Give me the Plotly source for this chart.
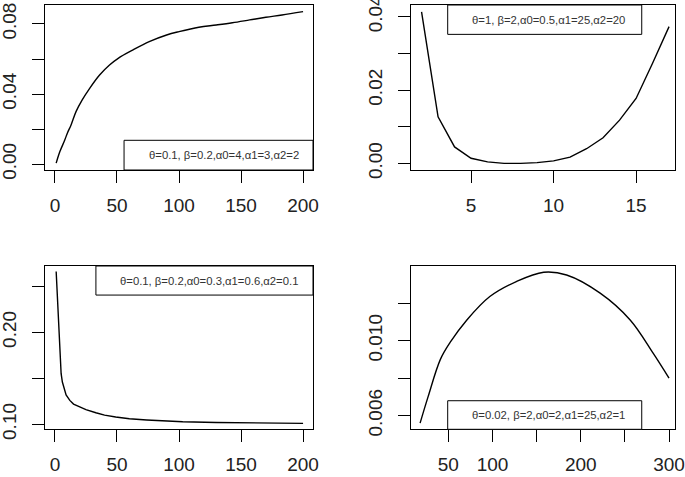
import plotly.graph_objects as go

# panel 1: theta=0.1, beta=0.2, a0=4, a1=3, a2=2
x1 = [1, 4, 8, 10, 13, 17, 22, 28, 36, 44, 51, 63, 76, 90, 100, 116, 130, 143, 157, 170, 183, 200]
y1 = [0.0006, 0.0072, 0.0139, 0.0177, 0.0224, 0.030, 0.0367, 0.0433, 0.0509, 0.0566, 0.0604,
      0.0652, 0.0699, 0.0737, 0.0756, 0.0781, 0.0794, 0.0807, 0.0823, 0.0838, 0.0851, 0.087]

# panel 2: theta=1, beta=2, a0=0.5, a1=25, a2=20
x2 = [2, 3, 4, 5, 6, 7, 8, 9, 10, 11, 12, 13, 14, 15, 16, 17]
y2 = [0.0413, 0.0127, 0.0045, 0.0014, 0.0004, 0.0, 0.0, 0.0002, 0.0007, 0.0017,
      0.004, 0.007, 0.0118, 0.0177, 0.0273, 0.0373]

# panel 3: theta=0.1, beta=0.2, a0=0.3, a1=0.6, a2=0.1
x3 = [1, 2, 3, 4, 5, 6, 9, 12, 15, 20, 25, 33, 40, 49, 60, 74, 90, 103, 130, 150, 174, 200]
y3 = [0.266, 0.236, 0.215, 0.172, 0.155, 0.146, 0.132, 0.126, 0.122, 0.119, 0.116, 0.1126,
      0.110, 0.108, 0.106, 0.1047, 0.1035, 0.1028, 0.102, 0.1018, 0.1017, 0.101]

# panel 4: theta=0.02, beta=2, a0=2, a1=25, a2=1
x4 = [18, 27, 41, 52, 71, 97, 127, 158, 184, 222, 256, 282, 300]
y4 = [0.0056, 0.0070, 0.0090, 0.0099, 0.0111, 0.01235, 0.01315, 0.01365, 0.0135,
      0.01253, 0.0111, 0.00933, 0.0080]

labels = ["θ=0.1, β=0.2,α0=4,α1=3,α2=2",
          "θ=1, β=2,α0=0.5,α1=25,α2=20",
          "θ=0.1, β=0.2,α0=0.3,α1=0.6,α2=0.1",
          "θ=0.02, β=2,α0=2,α1=25,α2=1"]

W, H = 685, 477
def dx(a, b):
    return [a / W, b / W]
def dy(top, bot):
    return [1 - bot / H, 1 - top / H]

fnt = dict(family="Liberation Sans, Arial", size=19, color="#222")
ax = dict(showline=True, mirror=True, linecolor="black", linewidth=1, ticks="outside",
          ticklen=12, tickcolor="black", showgrid=False, zeroline=False, tickfont=fnt,
          ticklabelstandoff=6, automargin=False, ticklabeloverflow="allow")
yax = dict(ax, tickangle=-90, ticklabelstandoff=8)

fig = go.Figure()
series = [(x1, y1, "spline"), (x2, y2, "linear"), (x3, y3, "linear"), (x4, y4, "spline")]
for i, (xs, ys, shp) in enumerate(series):
    s = "" if i == 0 else str(i + 1)
    fig.add_trace(go.Scatter(x=xs, y=ys, mode="lines", xaxis="x" + s, yaxis="y" + s,
                             line=dict(color="black", width=1.4, shape=shp), showlegend=False))

fig.update_layout(
    width=W, height=H, margin=dict(l=0, r=0, t=0, b=0),
    plot_bgcolor="white", paper_bgcolor="white",
    xaxis=dict(ax, domain=dx(45, 313), range=[-8, 208], tickvals=[0, 50, 100, 150, 200],
               anchor="y"),
    yaxis=dict(yax, domain=dy(5, 170), range=[-0.0033, 0.0908],
               tickvals=[0, 0.02, 0.04, 0.06, 0.08],
               ticktext=["0.00", "", "0.04", "", "0.08"], anchor="x"),
    xaxis2=dict(ax, domain=dx(411, 675), range=[1.36, 17.36], tickvals=[5, 10, 15],
                anchor="y2"),
    yaxis2=dict(yax, domain=dy(5, 170), range=[-0.0018, 0.0432],
                tickvals=[0, 0.01, 0.02, 0.03, 0.04],
                ticktext=["0.00", "", "0.02", "", "0.04"], anchor="x2"),
    xaxis3=dict(ax, domain=dx(45, 313), range=[-8, 208], tickvals=[0, 50, 100, 150, 200],
                anchor="y3"),
    yaxis3=dict(yax, domain=dy(266, 429.3), range=[0.0946, 0.272],
                tickvals=[0.10, 0.15, 0.20, 0.25],
                ticktext=["0.10", "", "0.20", ""], anchor="x3"),
    xaxis4=dict(ax, domain=dx(411, 675), range=[7.7, 306.8],
                tickvals=[50, 100, 150, 200, 250, 300],
                ticktext=["50", "100", "", "200", "", "300"], anchor="y4"),
    yaxis4=dict(yax, domain=dy(266, 429.3), range=[0.00527, 0.01398],
                tickvals=[0.006, 0.008, 0.010, 0.012],
                ticktext=["0.006", "", "0.010", ""], anchor="x4"),
)

# legend boxes (axis-domain coordinates): x0, x1, y0, y1, text x
boxes = [(0.295, 1.0, 0.0, 0.18, 0.3795),
         (0.139, 0.874, 0.822, 1.0, 0.2235),
         (0.19, 1.0, 0.822, 1.0, 0.272),
         (0.139, 0.874, 0.0, 0.175, 0.2235)]
for i, (bx0, bx1, by0, by1, tx) in enumerate(boxes):
    s = "" if i == 0 else str(i + 1)
    fig.add_shape(type="rect", xref="x" + s + " domain", yref="y" + s + " domain",
                  x0=bx0, x1=bx1, y0=by0, y1=by1, line=dict(color="black", width=1),
                  fillcolor="white", layer="above")
    fig.add_annotation(xref="x" + s + " domain", yref="y" + s + " domain",
                       x=tx, y=(by0 + by1) / 2, text=labels[i], showarrow=False,
                       xanchor="left", yanchor="middle",
                       font=dict(family="Liberation Sans, Arial", size=11.3, color="#333"))

# drop the default page margin so the figure fills the window exactly
fig.write_html("out.html", config={"displayModeBar": False},
               post_script="document.body.style.margin='0';document.body.style.overflow='hidden';")
